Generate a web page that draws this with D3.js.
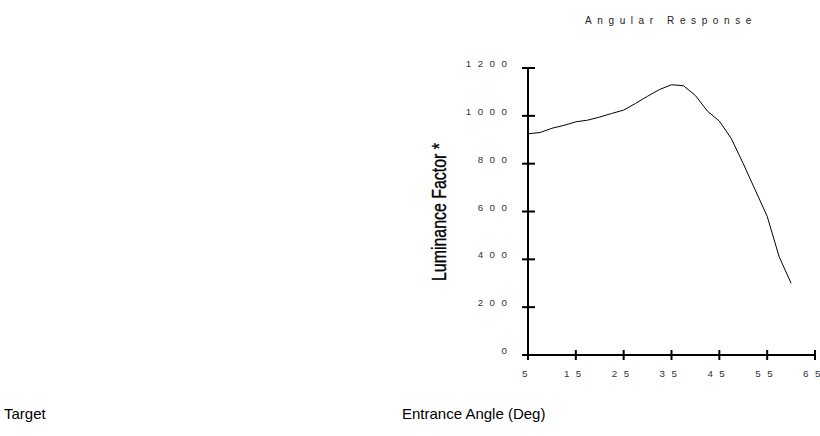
<!DOCTYPE html>
<html>
<head>
<meta charset="utf-8">
<script src="https://cdn.jsdelivr.net/npm/d3@7"></script>
<style>
  html, body { margin: 0; padding: 0; background: #fff; }
  svg { display: block; }
</style>
</head>
<body>
<svg id="chart" width="820" height="436"></svg>
<script>
const angles = [5, 7.5, 10, 12.5, 15, 17.5, 20, 22.5, 25, 27.5, 30, 32.5, 35, 37.5, 40, 42.5, 45, 47.5, 50, 52.5, 55, 57.5, 60];
const luminance = [925, 930, 948, 960, 975, 982, 995, 1010, 1024, 1052, 1082, 1110, 1130, 1126, 1085, 1020, 978, 905, 800, 690, 580, 411, 300];
const xTicks = [5, 15, 25, 35, 45, 55, 65];
const yTicks = [0, 200, 400, 600, 800, 1000, 1200];
const titleText = "Angular Response";
const xTitle = "Entrance Angle (Deg)";
const yTitle = "Luminance Factor *";
const leftLabel = "Target";

const svg = d3.select("#chart");
const x = d3.scaleLinear().domain([5, 65]).range([528, 815]);
const y = d3.scaleLinear().domain([0, 1200]).range([355, 68]);

const labelFont = "Liberation Sans, Arial, sans-serif";
const spacing = 6.5;

// Title
svg.append("text")
  .attr("x", 671).attr("y", 24)
  .attr("text-anchor", "middle")
  .attr("font-family", labelFont)
  .attr("font-size", 10)
  .attr("letter-spacing", 5.6)
  .attr("fill", "#222")
  .text(titleText);

// Axes lines
svg.append("line")
  .attr("x1", x(5)).attr("x2", x(5))
  .attr("y1", y(1200)).attr("y2", y(0) + 1)
  .attr("stroke", "#000").attr("stroke-width", 2);
svg.append("line")
  .attr("x1", x(5) - 6).attr("x2", x(65) + 1)
  .attr("y1", y(0)).attr("y2", y(0))
  .attr("stroke", "#000").attr("stroke-width", 2);

// Y ticks
svg.append("g").selectAll("line").data(yTicks.filter(d => d > 0)).join("line")
  .attr("x1", x(5) - 6).attr("x2", x(5) + 7)
  .attr("y1", d => y(d)).attr("y2", d => y(d))
  .attr("stroke", "#000").attr("stroke-width", 2);
svg.append("g").selectAll("text").data(yTicks).join("text")
  .attr("x", 507 + spacing)
  .attr("y", d => y(d) - 1)
  .attr("text-anchor", "end")
  .attr("font-family", labelFont)
  .attr("font-size", 9.8)
  .attr("letter-spacing", spacing)
  .attr("fill", "#333")
  .text(d => String(d));

// X ticks
svg.append("g").selectAll("line").data(xTicks).join("line")
  .attr("x1", d => x(d)).attr("x2", d => x(d))
  .attr("y1", y(0) - 5).attr("y2", y(0) + 5)
  .attr("stroke", "#000").attr("stroke-width", 2);
svg.append("g").selectAll("text").data(xTicks).join("text")
  .attr("x", d => x(d))
  .attr("y", 376.5)
  .attr("text-anchor", "middle")
  .attr("font-family", labelFont)
  .attr("font-size", 9.8)
  .attr("letter-spacing", spacing)
  .attr("fill", "#333")
  .text(d => String(d));

// Line
const line = d3.line().x((d, i) => x(angles[i])).y(d => y(d));
svg.append("path")
  .datum(luminance)
  .attr("d", line)
  .attr("fill", "none")
  .attr("stroke", "#000")
  .attr("stroke-width", 1);

// Y title
svg.append("text")
  .attr("transform", "translate(446,212) rotate(-90)")
  .attr("text-anchor", "middle")
  .attr("font-family", "Liberation Sans Narrow, Arial Narrow, sans-serif")
  .attr("font-size", 21)
  .attr("textLength", 138)
  .attr("lengthAdjust", "spacingAndGlyphs")
  .attr("fill", "#000")
  .attr("stroke", "#000")
  .attr("stroke-width", 0.35)
  .text(yTitle);

// Bottom labels
svg.append("text")
  .attr("x", 4).attr("y", 418.5)
  .attr("font-family", labelFont)
  .attr("font-size", 15)
  .attr("fill", "#000")
  .text(leftLabel);
svg.append("text")
  .attr("x", 402).attr("y", 418.5)
  .attr("font-family", labelFont)
  .attr("font-size", 15)
  .attr("fill", "#000")
  .text(xTitle);
</script>
</body>
</html>
